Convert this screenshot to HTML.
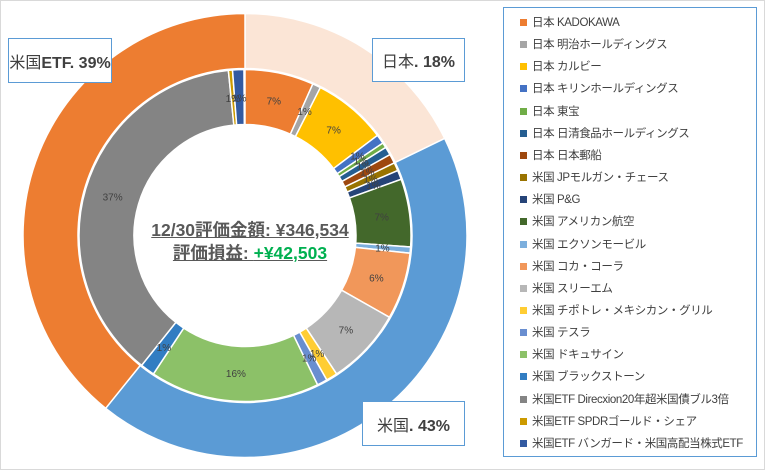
<!DOCTYPE html>
<html><head><meta charset="utf-8"><style>
html,body{margin:0;padding:0;background:#fff;}
#c{position:relative;width:765px;height:470px;overflow:hidden;font-family:"Liberation Sans","Noto Sans CJK JP",sans-serif;}
.box{position:absolute;background:#fff;border:1px solid #5B9BD5;font-size:16px;color:#404040;display:flex;align-items:center;justify-content:center;box-sizing:border-box;}
#leg{position:absolute;left:503px;top:7px;width:254px;height:450px;border:1px solid #5B9BD5;box-sizing:border-box;}
.li{position:absolute;left:16px;font-size:11.5px;letter-spacing:-0.4px;color:#404040;white-space:nowrap;line-height:14px;}
.li i{display:inline-block;width:7px;height:7px;margin-right:5px;vertical-align:0px;}
</style></head><body>
<div id="c">
<svg id="s" width="765" height="470" style="position:absolute;left:0;top:0">
<rect x="0.5" y="0.5" width="764" height="469" fill="#fff" stroke="#d9d9d9"/>
</svg>
<div class="box" style="left:8px;top:38px;width:104px;height:45px;"><span>米国<b>ETF. 39%</b></span></div>
<div class="box" style="left:372px;top:38px;width:93px;height:44px;"><span>日本<b>. 18%</b></span></div>
<div class="box" style="left:362px;top:401px;width:103px;height:45px;"><span>米国<b>. 43%</b></span></div>
<div style="position:absolute;left:130px;top:219px;width:240px;text-align:center;font-size:17.5px;font-weight:bold;color:#595959;line-height:23px;">
<span style="text-decoration:underline">12/30評価金額: ¥346,534</span><br>
<span style="text-decoration:underline">評価損益: <span style="color:#00B050">+¥42,503</span></span></div>
<div id="leg"></div>
</div>
<script>
var cx=245,cy=235.5;
var outer=[[17.8,"#FBE5D6"],[43.0,"#5B9BD5"],[39.2,"#ED7D31"]];
var inner=[
["日本 KADOKAWA",6.7,"#ED7D31","7%"],["日本 明治ホールディングス",0.8,"#A5A5A5","1%"],["日本 カルビー",7.2,"#FFC000","7%"],
["日本 キリンホールディングス",0.9,"#4472C4","1%"],["日本 東宝",0.5,"#70AD47","1%"],["日本 日清食品ホールディングス",0.8,"#255E91","1%"],
["日本 日本郵船",0.9,"#9E480E","1%"],["米国 JPモルガン・チェース",0.8,"#997300","1%"],["米国 P&G",0.9,"#264478","1%"],
["米国 アメリカン航空",6.6,"#43682B","7%"],["米国 エクソンモービル",0.6,"#7CAFDD","1%"],["米国 コカ・コーラ",6.5,"#F1975A","6%"],
["米国 スリーエム",7.5,"#B7B7B7","7%"],["米国 チポトレ・メキシカン・グリル",1.1,"#FFCD33","1%"],["米国 テスラ",1.0,"#698ED0","1%"],
["米国 ドキュサイン",16.5,"#8CC168","16%"],["米国 ブラックストーン",1.4,"#327DC2","1%"],
["米国ETF Direcxion20年超米国債ブル3倍",37.7,"#848484","37%"],["米国ETF SPDRゴールド・シェア",0.4,"#CC9A00","1%"],
["米国ETF バンガード・米国高配当株式ETF",1.1,"#335AA1","1%"]];
var s=document.getElementById('s'),NS="http://www.w3.org/2000/svg";
function pt(r,p){var a=p/100*2*Math.PI;return [cx+r*Math.sin(a),cy-r*Math.cos(a)];}
function arc(r0,r1,a,b,col){var p1=pt(r1,a),p2=pt(r1,b),p3=pt(r0,b),p4=pt(r0,a),l=(b-a)>50?1:0;
var e=document.createElementNS(NS,'path');
e.setAttribute('d','M'+p1+'A'+r1+','+r1+' 0 '+l+' 1 '+p2+'L'+p3+'A'+r0+','+r0+' 0 '+l+' 0 '+p4+'Z');
e.setAttribute('fill',col);e.setAttribute('stroke','#fff');e.setAttribute('stroke-width','1.5');s.appendChild(e);}
var a=0;outer.forEach(function(o){arc(167,222,a,a+o[0],o[1]);a+=o[0];});
a=0;var labs=[];inner.forEach(function(o){arc(111,166,a,a+o[1],o[2]);labs.push([a+o[1]/2,o[3]]);a+=o[1];});
labs.forEach(function(l){var p=pt(138,l[0]);var t=document.createElementNS(NS,'text');
t.setAttribute('x',p[0]);t.setAttribute('y',p[1]+4);t.setAttribute('text-anchor','middle');
t.setAttribute('font-size','10');t.setAttribute('fill','#404040');t.setAttribute('font-family','Liberation Sans, sans-serif');
t.textContent=l[1];s.appendChild(t);});
var lg=document.getElementById('leg');
inner.forEach(function(o,i){var d=document.createElement('div');d.className='li';d.style.top=(8+i*22.15)+'px';
d.innerHTML='<i style="background:'+o[2]+'"></i>'+o[0].replace(/&/g,'&amp;');lg.appendChild(d);});
</script>
</body></html>
